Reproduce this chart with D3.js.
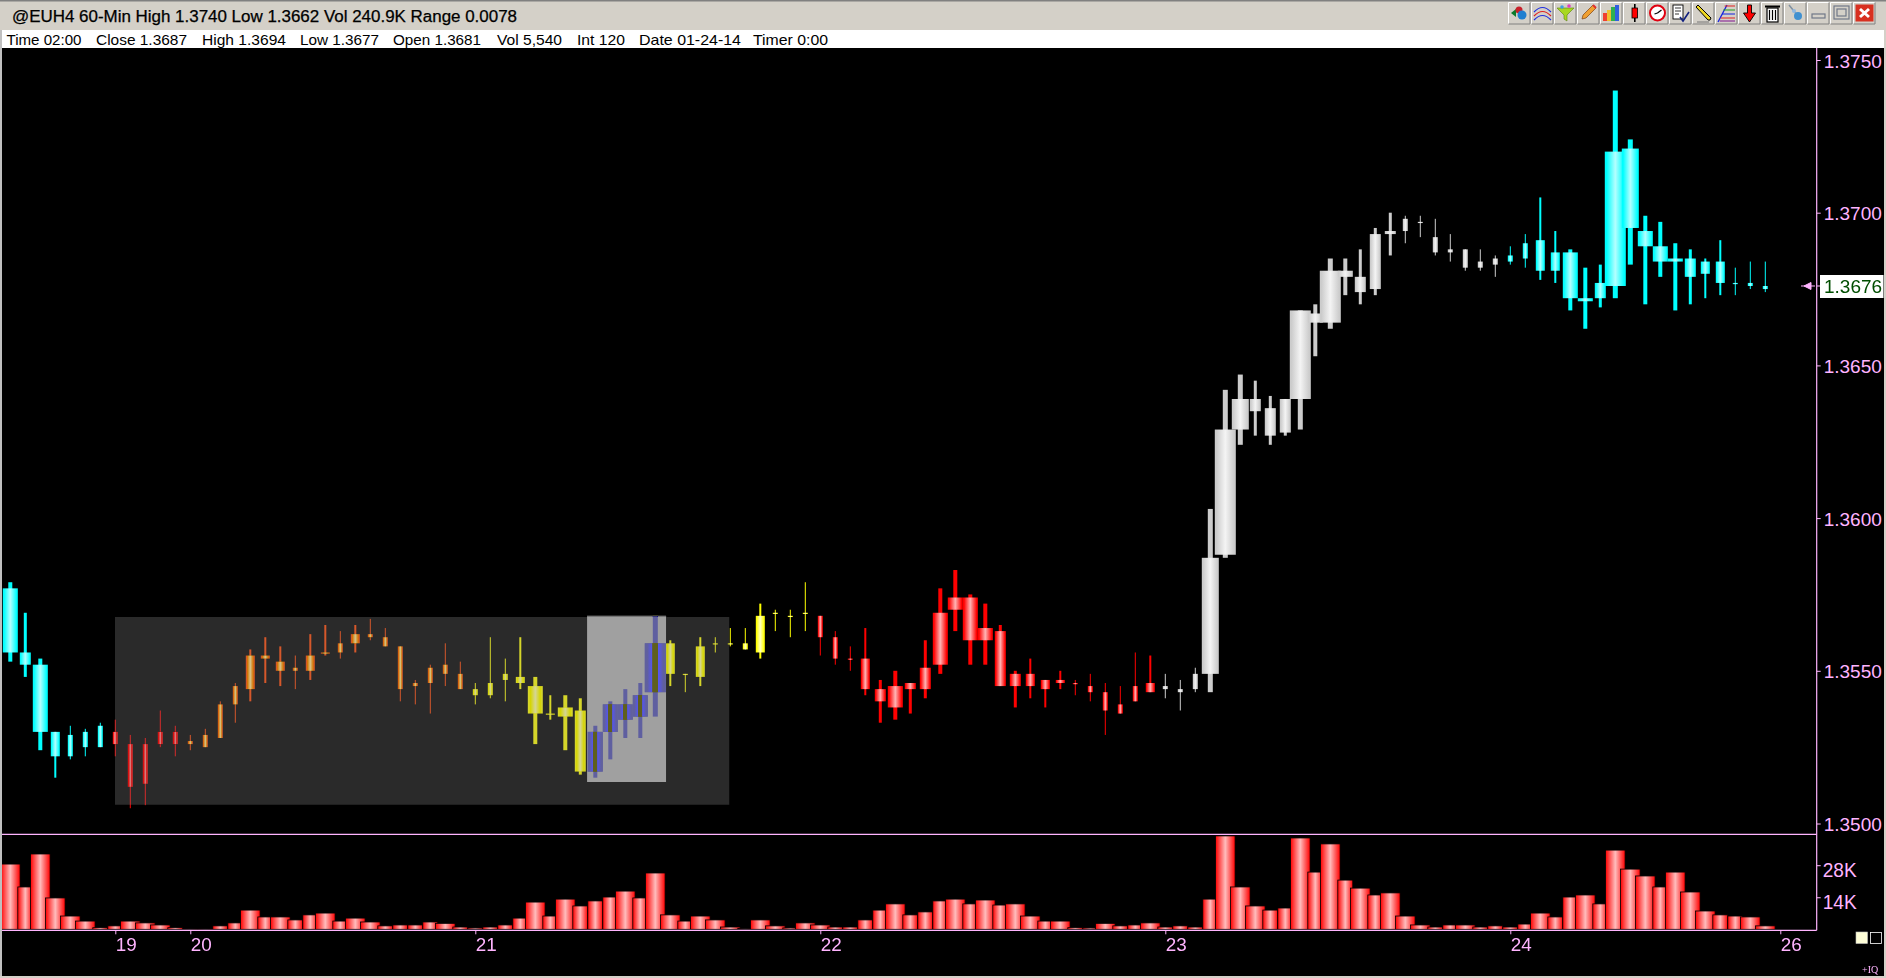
<!DOCTYPE html>
<html><head><meta charset="utf-8"><title>@EUH4 60-Min</title>
<script src="https://cdn.jsdelivr.net/npm/d3@7/dist/d3.min.js"></script>
<style>html,body{margin:0;padding:0;background:#000;overflow:hidden}svg{display:block}text{font-family:"Liberation Sans",Arial,sans-serif}</style>
</head><body><div id="chart"></div>
<script>
// ---- DATA: prices in 1/10000 units, volume in thousands ----
const wickHigh=[13579,13569,13554,13530,13532,13531,13533,13534,13529,13528,13537,13532,13529,13531,13540,13546,13557,13561,13558,13555,13562,13565,13563,13565,13567,13564,13558,13547,13552,13559,13553,13546,13561,13554,13561,13548,13542,13542,13541,13532,13540,13544,13546,13568,13560,13549,13561,13561,13564,13564,13572,13570,13570,13579,13568,13563,13558,13564,13547,13550,13546,13560,13577,13583,13575,13572,13565,13550,13554,13547,13550,13547,13549,13546,13545,13556,13555,13549,13547,13551,13603,13642,13647,13645,13640,13639,13668,13670,13685,13685,13688,13695,13700,13699,13699,13698,13693,13688,13688,13686,13689,13693,13705,13694,13688,13682,13683,13740,13724,13699,13697,13690,13688,13685,13691,13682,13684,13684];
const bodyHigh=[13577,13556,13552,13530,13529,13530,13532,13530,13526,13526,13530,13530,13527,13529,13539,13545,13555,13555,13553,13551,13555,13556,13559,13562,13562,13561,13558,13546,13551,13552,13549,13544,13546,13549,13548,13545,13536,13538,13537,13530,13539,13539,13542,13559,13559,13549,13558,13559,13559,13559,13568,13569,13568,13569,13568,13561,13554,13554,13544,13545,13546,13551,13569,13574,13574,13564,13563,13549,13549,13547,13547,13546,13545,13543,13539,13545,13546,13545,13544,13549,13587,13629,13639,13639,13636,13639,13668,13667,13681,13681,13679,13693,13694,13698,13697,13692,13688,13688,13684,13685,13686,13690,13691,13687,13687,13672,13677,13720,13721,13694,13689,13685,13685,13684,13684,13677,13677,13676];
const bodyLow=[13556,13552,13530,13522,13522,13525,13525,13526,13512,13513,13526,13526,13526,13525,13528,13539,13544,13554,13550,13550,13550,13556,13556,13559,13561,13558,13544,13545,13546,13549,13544,13542,13542,13547,13546,13536,13536,13535,13517,13517,13530,13534,13535,13543,13549,13549,13548,13559,13559,13557,13556,13569,13568,13569,13561,13554,13554,13544,13540,13538,13544,13544,13552,13570,13560,13560,13545,13545,13545,13544,13546,13546,13543,13537,13536,13540,13543,13544,13543,13544,13549,13588,13629,13635,13627,13628,13639,13664,13664,13679,13674,13675,13693,13694,13697,13687,13687,13682,13682,13683,13684,13685,13681,13681,13672,13671,13672,13676,13695,13689,13684,13684,13679,13680,13677,13677,13676,13675];
const wickLow=[13553,13548,13524,13515,13521,13522,13525,13522,13505,13506,13525,13522,13524,13525,13528,13533,13540,13546,13545,13544,13547,13555,13554,13556,13560,13558,13540,13539,13536,13545,13544,13539,13541,13540,13544,13526,13534,13524,13516,13515,13521,13528,13528,13535,13545,13543,13545,13556,13558,13557,13554,13563,13561,13563,13555,13552,13550,13542,13533,13534,13536,13541,13549,13563,13552,13552,13545,13538,13541,13538,13544,13542,13540,13529,13536,13540,13543,13541,13537,13543,13543,13587,13624,13627,13624,13627,13629,13653,13662,13673,13670,13673,13686,13690,13692,13686,13684,13681,13681,13679,13683,13682,13678,13677,13668,13662,13669,13672,13683,13670,13679,13668,13670,13672,13673,13673,13675,13674];
const volumeK=[28.5,18.5,32.9,13.7,5.8,3.6,0.7,1.5,3.6,2.8,1.9,0.7,0.15,0.15,1.5,2.8,8.4,5.4,5.4,4.1,6.3,7.1,3.6,4.9,3.2,1.5,1.9,1.9,3.2,2.6,1.0,0.6,1.0,1.9,4.9,11.9,5.8,13.2,10.2,12.4,14.1,16.7,13.7,24.6,6.3,3.6,5.8,4.1,1.0,0.4,4.1,1.5,0.6,2.8,1.9,1.0,1.0,4.1,8.4,11.1,6.3,7.6,12.4,13.2,11.1,12.8,10.6,11.1,5.8,3.6,3.6,0.7,0.6,2.6,1.5,1.9,2.8,1.0,1.5,1.0,13.2,40.8,18.5,10.2,8.4,9.3,39.9,25.0,37.3,21.5,18.0,15.0,15.9,5.8,1.9,1.0,1.9,1.9,1.0,1.5,1.0,2.3,7.1,5.4,14.1,15.0,11.1,34.6,26.3,23.3,18.5,25.0,16.3,8.0,6.3,5.8,5.4,1.5];
// activity grade of each candle, as the chart grades it (0 lightest .. 5 heaviest)
const candleGrade=[3,2,3,1,0,0,0,0,0,0,0,0,0,0,0,0,1,1,1,0,1,1,0,1,0,0,0,0,0,0,0,0,0,0,1,3,1,3,2,3,3,3,3,5,1,0,1,0,0,0,1,0,0,0,0,0,0,1,2,3,2,2,3,3,3,3,2,2,1,1,1,0,0,0,0,0,1,0,0,0,4,5,4,2,2,2,5,3,5,3,2,2,2,0,0,0,0,0,0,0,0,0,1,1,3,3,2,5,4,3,3,3,2,1,1,0,0,0];
const zoneEnds=[6,11,30,53,76,99,117];
const zoneNames=["cyan","red","orange","yellow","red","white","cyan"];
const dateTickBars=[7,12,31,54,77,100,118];
const dateTickLabels=["19","20","21","22","23","24","26"];
const priceTicks=[13500,13550,13600,13650,13700,13750];
const volumeTicks=[14,28];
const lastPrice=13676;
const titleText="@EUH4 60-Min High 1.3740 Low 1.3662 Vol 240.9K Range 0.0078";
const infoLabels=["Time 02:00","Close 1.3687","High 1.3694","Low 1.3677","Open 1.3681","Vol 5,540","Int 120","Date 01-24-14","Timer 0:00"];
// highlighted boxes: [first bar, last bar, high price, low price]
const outerBox=[6.98,47.93,13567.6,13506.1];
const innerBox=[38.45,43.72,13568.0,13513.6];

// ---- LAYOUT / STYLE ----
const W=1886,H=978;
const PINK="#ffb4ff";
const infoX=[6.5,96,202,300,393,497,577,639,753],infoW=[75,91,84,79,88,65,48,102,75];
const gradeBody=[5,9,11,15,17,21],gradeWick=[1,2,3,4,5,5];
const wideVolumeBars=new Set([0,2,3,4,5,8,9,10,16,18,21,23,24,29,35,37,41,43,44,46,47,48,50,51,53,54,59,63,65,67,68,70,73,76,81,82,83,86,88,90,92,93,94,97,102,105,107,108,109,111,112,113,116,117]);
const palette={cyan:["#00ffff","#b4ffff"],red:["#ff0000","#ffb4b4"],orange:["#ff8200","#fff0b4"],yellow:["#ffff00","#ffffc0"],white:["#cccccc","#f4f4f4"]};

const x=d3.scaleLinear().domain([0,117]).range([10.3,1765.3]);
const y=d3.scaleLinear().domain([13500,13750]).range([823.5,60]);
const yVol=d3.scaleLinear().domain([0,28]).range([929.3,865.2]);
const zoneOf=i=>zoneNames[zoneEnds.findIndex(e=>i<=e)];

const svg=d3.select("#chart").append("svg").attr("width",W).attr("height",H).attr("viewBox",`0 0 ${W} ${H}`);
const defs=svg.append("defs");
Object.entries(palette).forEach(([k,[a,b]])=>{
  const g=defs.append("linearGradient").attr("id","g-"+k).attr("x1",0).attr("x2",1).attr("y1",0).attr("y2",0);
  [[0,a],[.08,a],[.5,b],[.92,a],[1,a]].forEach(([o,c])=>g.append("stop").attr("offset",o).attr("stop-color",c));
});
const gv=defs.append("linearGradient").attr("id","g-vol").attr("x1",0).attr("x2",1).attr("y1",0).attr("y2",0);
[[0,"#ff0000"],[.5,"#ffbcbc"],[1,"#ff0000"]].forEach(([o,c])=>gv.append("stop").attr("offset",o).attr("stop-color",c));
// yellow body seen through the light box: the original inverts it bit by bit
const gx=defs.append("linearGradient").attr("id","g-inv").attr("x1",0).attr("x2",1).attr("y1",0).attr("y2",0);
[[0,"#60609e"],[.12,"#60609e"],[.35,"#5555f0"],[.37,"#5f5f1e"],[.63,"#5f5f1e"],[.65,"#5555f0"],[.88,"#60609e"],[1,"#60609e"]]
  .forEach(([o,c])=>gx.append("stop").attr("offset",o).attr("stop-color",c));
defs.append("clipPath").attr("id","plot").append("rect").attr("x",2).attr("y",48).attr("width",1815).attr("height",882);

// window furniture
svg.append("rect").attr("width",W).attr("height",H).attr("fill","#000");
svg.append("rect").attr("width",W).attr("height",30).attr("fill","#d4d0c8");
svg.append("rect").attr("width",W).attr("height",1.5).attr("fill","#808080");
svg.append("rect").attr("y",30).attr("width",W).attr("height",18).attr("fill","#fff");
svg.append("rect").attr("y",30).attr("x",1884).attr("width",2).attr("height",H-30).attr("fill","#d4d0c8");
svg.append("rect").attr("y",30).attr("width",2).attr("height",H-30).attr("fill","#c0c0c0");
svg.append("rect").attr("y",976).attr("width",W).attr("height",2).attr("fill","#d4d0c8");

svg.append("text").attr("x",12).attr("y",21.5).attr("font-size",16).attr("fill","#000").attr("stroke","#000").attr("stroke-width",.25)
  .attr("textLength",505).attr("lengthAdjust","spacingAndGlyphs").text(titleText);
svg.selectAll("text.info").data(infoLabels).join("text").attr("class","info")
  .attr("x",(d,i)=>infoX[i]).attr("y",45).attr("font-size",15).attr("fill","#000")
  .attr("textLength",(d,i)=>infoW[i]).attr("lengthAdjust","spacingAndGlyphs").text(d=>d);

// toolbar
const tb=svg.append("g");
const icons=[
 g=>{g.append("path").attr("d","M3 11l5-4v8z").attr("fill","#0a7a2a");g.append("circle").attr("cx",11).attr("cy",8).attr("r",3.5).attr("fill","#c8202a");g.append("circle").attr("cx",14).attr("cy",13).attr("r",4.5).attr("fill","#1f7fd0");},
 g=>{["#2030e0","#e02020","#2030e0"].forEach((c,k)=>g.append("path").attr("d",`M3 ${10+k*4}Q11.5 ${1+k*4} 20 ${10+k*4}`).attr("fill","none").attr("stroke",c).attr("stroke-width",1.2));},
 g=>{g.append("path").attr("d","M3 6h17l-7 7v6l-3-2v-4z").attr("fill","#a8d820").attr("stroke","#5a8010").attr("stroke-width",.6);g.append("circle").attr("cx",8).attr("cy",5).attr("r",1.8).attr("fill","#40a0e0");g.append("circle").attr("cx",15).attr("cy",4).attr("r",1.8).attr("fill","#e040c0");},
 g=>{g.append("path").attr("d","M5 17l1-4L16 3l3 3L9 16z").attr("fill","#f0a030").attr("stroke","#804010").attr("stroke-width",.7);g.append("path").attr("d","M16 3l3 3").attr("stroke","#e03030").attr("stroke-width",2);},
 g=>{[[3,11,"#f04030"],[7,8,"#f0c030"],[11,5,"#30b050"],[15,3,"#3060e0"]].forEach(([a,b,c])=>g.append("rect").attr("x",a).attr("y",b).attr("width",4).attr("height",19-b).attr("fill",c));},
 g=>{g.append("rect").attr("x",11).attr("y",2).attr("width",1.6).attr("height",18).attr("fill","#000");g.append("rect").attr("x",9).attr("y",6).attr("width",5.5).attr("height",10).attr("fill","#f00").attr("stroke","#000").attr("stroke-width",.8);},
 g=>{g.append("circle").attr("cx",11.5).attr("cy",11).attr("r",7.5).attr("fill","#fff").attr("stroke","#e00010").attr("stroke-width",2);g.append("path").attr("d","M11.5 11l-3 1M11.5 11l4-3").attr("stroke","#000").attr("stroke-width",1.2);},
 g=>{g.append("rect").attr("x",4).attr("y",3).attr("width",10).attr("height",14).attr("fill","#fff").attr("stroke","#000").attr("stroke-width",.9);g.append("path").attr("d","M6 6h6M6 9h6M6 12h4").attr("stroke","#000").attr("stroke-width",.8);g.append("path").attr("d","M11 15l3 4 6-9").attr("fill","none").attr("stroke","#102080").attr("stroke-width",1.6);},
 g=>{g.append("path").attr("d","M4 5l2-2 13 13-1 2-2 0z").attr("fill","#f0d820").attr("stroke","#000").attr("stroke-width",1);g.append("path").attr("d","M5 20h12").attr("stroke","#777").attr("stroke-width",1);},
 g=>{g.append("path").attr("d","M3 20L12 3").attr("stroke","#1020e0").attr("stroke-width",1.3);[[4,"#e02020"],[8,"#20a020"],[12,"#1020e0"],[16,"#e02020"],[19,"#801090"]].forEach(([a,c])=>g.append("path").attr("d",`M${11-a/3} ${a}H20`).attr("stroke",c).attr("stroke-width",1));},
 g=>{g.append("path").attr("d","M9.5 3h4v8h4l-6 9-6-9h4z").attr("fill","#f00").attr("stroke","#000").attr("stroke-width",.9);},
 g=>{g.append("rect").attr("x",6).attr("y",6).attr("width",11).attr("height",14).attr("fill","#fff").attr("stroke","#000").attr("stroke-width",1.2);g.append("path").attr("d","M8.5 8v10M11.5 8v10M14.5 8v10").attr("stroke","#000").attr("stroke-width",1.2);g.append("path").attr("d","M4 4.5h15").attr("stroke","#000").attr("stroke-width",2);},
 g=>{g.append("path").attr("d","M5 3l9 11").attr("stroke","#8090a0").attr("stroke-width",1.5);g.append("circle").attr("cx",14).attr("cy",14).attr("r",4).attr("fill","#4090d0");g.append("circle").attr("cx",10).attr("cy",9).attr("r",2).attr("fill","#90b8e0");},
 g=>{g.append("rect").attr("x",5).attr("y",12).attr("width",13).attr("height",4).attr("fill","none").attr("stroke","#707888").attr("stroke-width",1.2);},
 g=>{g.append("rect").attr("x",4).attr("y",4).attr("width",15).attr("height",13).attr("fill","none").attr("stroke","#707888").attr("stroke-width",1.2);g.append("rect").attr("x",7).attr("y",7).attr("width",9).attr("height",7).attr("fill","none").attr("stroke","#707888").attr("stroke-width",1.2);},
 g=>{g.append("rect").attr("x",2.5).attr("y",2.5).attr("width",18).attr("height",17).attr("fill","#d83020");g.append("path").attr("d","M7 7l9 8M16 7l-9 8").attr("stroke","#fff").attr("stroke-width",3);}
];
icons.forEach((draw,k)=>{
  const g=tb.append("g").attr("transform",`translate(${1508+k*23},2)`);
  g.append("rect").attr("width",22.5).attr("height",22.3).attr("fill","#d4d0c8");
  g.append("path").attr("d","M.5 22V.5H22").attr("fill","none").attr("stroke","#fff");
  g.append("path").attr("d","M.5 22H22V.5").attr("fill","none").attr("stroke","#808080");
  draw(g);
});

// candles
const plot=svg.append("g").attr("clip-path","url(#plot)");
const candles=plot.selectAll("g.candle").data(d3.range(wickHigh.length)).join("g").attr("class","candle");
candles.append("rect")
  .attr("x",i=>x(i)-gradeWick[candleGrade[i]]/2).attr("width",i=>gradeWick[candleGrade[i]])
  .attr("y",i=>y(wickHigh[i])).attr("height",i=>y(wickLow[i])-y(wickHigh[i]))
  .attr("fill",i=>palette[zoneOf(i)][0]);
const bodyX=i=>x(i)-gradeBody[candleGrade[i]]/2, bodyW=i=>gradeBody[candleGrade[i]];
const bodyY=i=>y(bodyHigh[i]), bodyH=i=>Math.max(1.2,y(bodyLow[i])-y(bodyHigh[i]));
candles.append("rect").attr("x",bodyX).attr("width",bodyW).attr("y",bodyY).attr("height",bodyH)
  .attr("fill",i=>`url(#g-${zoneOf(i)})`);

// highlighted boxes invert what lies under them
const ob=[x(outerBox[0]),y(outerBox[2]),x(outerBox[1]),y(outerBox[3])];
const ib=[x(innerBox[0]),y(innerBox[2]),x(innerBox[1]),y(innerBox[3])];
const rectPath=([a,b,c,d])=>`M${a} ${b}H${c}V${d}H${a}Z`;
plot.append("path").attr("d",rectPath(ob)+rectPath(ib)).attr("fill-rule","evenodd").attr("fill","#2a2a2a").style("mix-blend-mode","difference");
plot.append("path").attr("d",rectPath(ib)).attr("fill","#a0a0a0").style("mix-blend-mode","difference");
defs.append("clipPath").attr("id","inner").append("rect").attr("x",ib[0]).attr("y",ib[1]).attr("width",ib[2]-ib[0]).attr("height",ib[3]-ib[1]);
plot.append("g").attr("clip-path","url(#inner)")
  .selectAll("rect").data(d3.range(wickHigh.length).filter(i=>x(i)>ib[0]&&x(i)<ib[2]&&gradeBody[candleGrade[i]]>=15)).join("rect")
  .attr("x",bodyX).attr("width",bodyW).attr("y",bodyY).attr("height",bodyH).attr("fill","url(#g-inv)");

// volume
plot.selectAll("rect.vol").data(volumeK).join("rect").attr("class","vol")
  .attr("x",(d,i)=>x(i)-(wideVolumeBars.has(i)?9.8:7.5)).attr("width",(d,i)=>wideVolumeBars.has(i)?19.6:15)
  .attr("y",d=>yVol(d)).attr("height",d=>yVol(0)-yVol(d))
  .attr("fill","url(#g-vol)").attr("stroke","#000").attr("stroke-width",.8);

// axes
function styleAxis(g){
  g.select(".domain").attr("stroke",PINK).attr("stroke-width",1.2);
  g.selectAll(".tick line").attr("stroke",PINK);
  g.selectAll("text").attr("fill",PINK).attr("font-family",'"Liberation Sans",Arial,sans-serif');
}
const ax=svg.append("g").attr("transform","translate(1816.7,0)")
  .call(d3.axisRight(y).tickValues(priceTicks).tickSize(4).tickPadding(3).tickFormat(v=>d3.format(".4f")(v/10000)));
ax.select(".domain").attr("d","M0 48V930.3");
styleAxis(ax);
ax.selectAll("text").attr("font-size",19).attr("dy",null).attr("y",0).attr("transform","translate(0,7)");

const axV=svg.append("g").attr("transform","translate(1816.7,0)")
  .call(d3.axisRight(yVol).tickValues(volumeTicks).tickSize(4).tickPadding(2).tickFormat(v=>v+"K"));
axV.select(".domain").remove();
styleAxis(axV);
axV.selectAll("text").attr("font-size",20).attr("dy",null).attr("y",0).attr("transform","translate(0,11)")
  .attr("textLength",34).attr("lengthAdjust","spacingAndGlyphs");

const axX=svg.append("g").attr("transform","translate(0,930.3)")
  .call(d3.axisBottom(x).tickValues(dateTickBars).tickSize(4).tickFormat((v,k)=>dateTickLabels[k]));
axX.select(".domain").attr("d","M2 0H1816.7");
styleAxis(axX);
axX.selectAll("text").attr("text-anchor","start").attr("font-size",19).attr("dy",null).attr("y",20.5).attr("x",0)
  .attr("textLength",21).attr("lengthAdjust","spacingAndGlyphs");

// separator between price and volume
svg.append("path").attr("d",`M2 834.3H1816.7`).attr("stroke",PINK).attr("stroke-width",1.2);

// last price marker
const ly=y(lastPrice);
svg.append("path").attr("d",`M1801 ${ly}H1815M1804 ${ly}l7 -3.5v7zM1817 ${ly}h3.5`).attr("stroke",PINK).attr("fill",PINK);
svg.append("rect").attr("x",1820).attr("y",ly-11).attr("width",63.5).attr("height",23).attr("fill","#fff");
svg.append("text").attr("x",1824).attr("y",ly+7.5).attr("font-size",19).attr("fill","#004d00")
  .text(d3.format(".4f")(lastPrice/10000));

// corner controls
svg.append("rect").attr("x",1856).attr("y",932).attr("width",11.5).attr("height",11.5).attr("fill","#ffffd8").attr("stroke","#c0c0c0").attr("stroke-width",.6);
svg.append("rect").attr("x",1870.5).attr("y",932.5).attr("width",11).attr("height",11).attr("fill","#000").attr("stroke","#fff").attr("stroke-width",.8);
svg.append("text").attr("x",1862).attr("y",973).attr("font-size",10).attr("fill",PINK)
  .style("font-family","'Liberation Serif',serif").text("+IQ");
</script></body></html>
